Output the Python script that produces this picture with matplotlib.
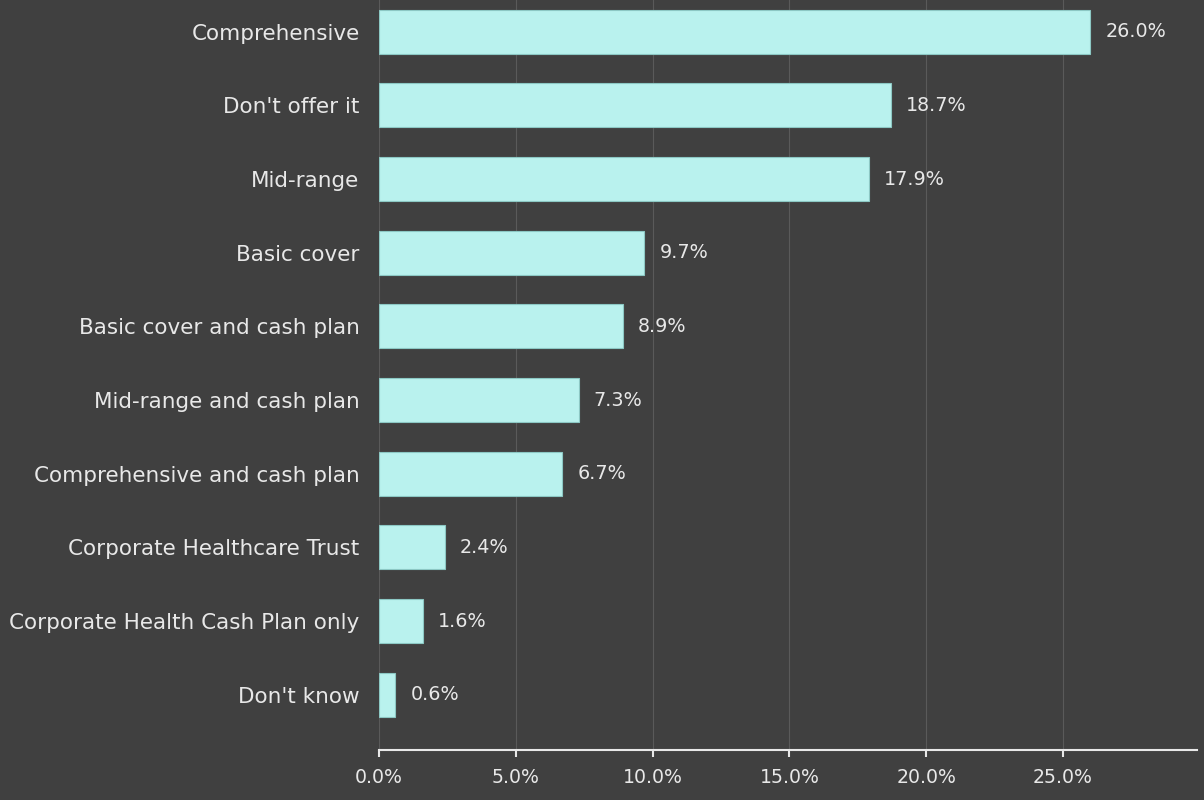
import matplotlib
matplotlib.use("Agg")
import matplotlib.pyplot as plt
from matplotlib.ticker import FuncFormatter, MultipleLocator

categories = [
    "Comprehensive",
    "Don't offer it",
    "Mid-range",
    "Basic cover",
    "Basic cover and cash plan",
    "Mid-range and cash plan",
    "Comprehensive and cash plan",
    "Corporate Healthcare Trust",
    "Corporate Health Cash Plan only",
    "Don't know",
]
values = [26.0, 18.7, 17.9, 9.7, 8.9, 7.3, 6.7, 2.4, 1.6, 0.6]

bg = "#404040"
bar_color = "#b9f2ee"
text_color = "#e8e8e8"

plt.rcParams["font.family"] = ["DejaVu Sans"]

fig = plt.figure(figsize=(12.04, 8), dpi=100, facecolor=bg)
ax = fig.add_axes([0.3148, 0.0625, 0.6794, 0.9375], facecolor=bg)

pos = list(range(len(categories)))
ax.barh(pos, values, height=0.6, color=bar_color, edgecolor="#8cc8c4",
        linewidth=0.8, zorder=3)

for y, v in zip(pos, values):
    ax.text(v + 0.55, y, f"{v:.1f}%", va="center", ha="left",
            color=text_color, fontsize=13.8, zorder=4)

ax.set_yticks(pos)
ax.set_yticklabels(categories)
ax.set_ylim(9.75, -0.43)
ax.set_xlim(0, max(values) * 1.15)

ax.xaxis.set_major_locator(MultipleLocator(5))
ax.xaxis.set_major_formatter(FuncFormatter(lambda x, _: f"{x:.1f}%"))

ax.grid(axis="x", color="#5a5a5a", linewidth=0.8, zorder=0)
ax.grid(axis="y", visible=False)

for side in ("left", "right", "top"):
    ax.spines[side].set_visible(False)
ax.spines["bottom"].set_color(text_color)
ax.spines["bottom"].set_linewidth(1.5)

ax.tick_params(axis="y", length=0, pad=14, labelcolor=text_color, labelsize=15.5)
ax.tick_params(axis="x", length=5, width=1.5, color=text_color,
               labelcolor=text_color, labelsize=13.6, pad=8)

fig.savefig("out.png", dpi=100, facecolor=bg)
